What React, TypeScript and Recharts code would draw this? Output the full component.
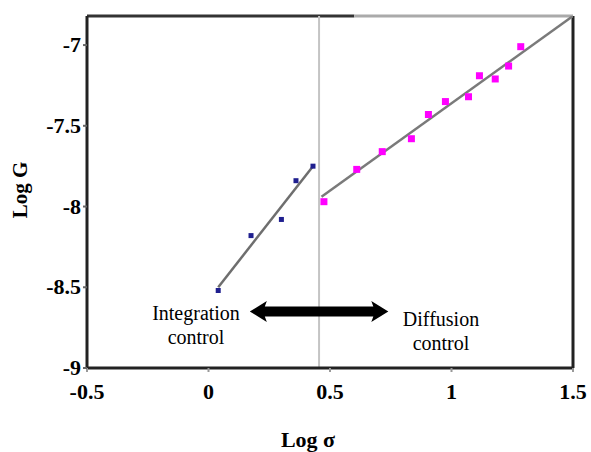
import React from "react";
import {
	ComposedChart, Scatter, XAxis, YAxis, ReferenceLine,
} from "recharts";

// log sigma / log G readings
const integrationX = [0.04, 0.175, 0.3, 0.36, 0.43];
const integrationY = [-8.52, -8.18, -8.08, -7.84, -7.75];
const diffusionX = [0.475, 0.61, 0.715, 0.835, 0.905, 0.975, 1.07, 1.115, 1.18, 1.235, 1.285];
const diffusionY = [-7.97, -7.77, -7.66, -7.58, -7.43, -7.35, -7.32, -7.19, -7.21, -7.13, -7.01];

// fitted lines (end points)
const integrationFitX = [0.04, 0.43];
const integrationFitY = [-8.5, -7.75];
const diffusionFitX = [0.465, 1.5];
const diffusionFitY = [-7.94, -6.82];

const xTicks = [-0.5, 0, 0.5, 1, 1.5];
const yTicks = [-9, -8.5, -8, -7.5, -7];
const transitionX = 0.455;
const arrowFrom = 0.17;
const arrowTo = 0.74;
const arrowY = -8.65;

const zip = (xs: number[], ys: number[]) => xs.map((x, i) => ({ x, y: ys[i] }));

const font = "Liberation Serif, serif";

const Square = (size: number, fill: string) => (props: any) => {
	const { cx, cy } = props;
	if (cx == null || cy == null) return null;
	return <rect x={cx - size / 2} y={cy - size / 2} width={size} height={size} fill={fill} />;
};

const Arrow = (props: any) => {
	const { x1, y1, x2 } = props;
	if (x1 == null) return null;
	const h = 17, hw = 10.5, sw = 5;
	const y = y1;
	const pts = [
		[x1, y], [x1 + h, y - hw], [x1 + h - 2, y - sw], [x2 - h + 2, y - sw], [x2 - h, y - hw],
		[x2, y], [x2 - h, y + hw], [x2 - h + 2, y + sw], [x1 + h - 2, y + sw], [x1 + h, y + hw],
	].map((p) => p.join(",")).join(" ");
	return <polygon points={pts} fill="#000" />;
};

const renderXTick = (props: any) => {
	const { x, y, payload } = props;
	return (
		<text x={x} y={y + 23} textAnchor="middle" style={{ fontFamily: font, fontWeight: 700, fontSize: 22, fill: "#000" }}>
			{String(payload.value)}
		</text>
	);
};

const renderYTick = (props: any) => {
	const { x, y, payload } = props;
	return (
		<text x={x} y={y + 7} textAnchor="end" style={{ fontFamily: font, fontWeight: 700, fontSize: 22, fill: "#000" }}>
			{String(payload.value)}
		</text>
	);
};

export default function App() {
	return (
		<div style={{ position: "absolute", left: 0, top: 0 }}>
			<ComposedChart width={591} height={452} margin={{ top: 16, right: 18, bottom: 54, left: 27 }}>
				<XAxis
					type="number" dataKey="x" domain={[-0.5, 1.5]} ticks={xTicks}
					allowDataOverflow axisLine={{ stroke: "#222", strokeWidth: 3 }}
					tickLine={{ stroke: "#999", strokeWidth: 2 }} tickSize={4} tickMargin={4}
					tick={renderXTick}
				/>
				<YAxis
					type="number" dataKey="y" domain={[-9, -6.82]} ticks={yTicks}
					allowDataOverflow width={60} axisLine={{ stroke: "#222", strokeWidth: 3 }}
					tickLine={{ stroke: "#666", strokeWidth: 2 }} tickSize={4} tickMargin={2}
					tick={renderYTick}
				/>

				<ReferenceLine segment={[{ x: -0.5, y: -6.82 }, { x: 0.6, y: -6.82 }]} stroke="#333" strokeWidth={3} ifOverflow="visible" />
				<ReferenceLine segment={[{ x: 0.6, y: -6.82 }, { x: 1.5, y: -6.82 }]} stroke="#aaa" strokeWidth={3} ifOverflow="visible" />
				<ReferenceLine x={1.5} stroke="#222" strokeWidth={3} ifOverflow="visible" />
				<ReferenceLine x={transitionX} stroke="#c4c4c4" strokeWidth={2} />

				<ReferenceLine segment={[{ x: arrowFrom, y: arrowY }, { x: arrowTo, y: arrowY }]} shape={Arrow} />

				<Scatter data={zip(integrationFitX, integrationFitY)} line={{ stroke: "#6e6e6e", strokeWidth: 2.5 }}
					shape={() => null} isAnimationActive={false} />
				<Scatter data={zip(diffusionFitX, diffusionFitY)} line={{ stroke: "#7a7a7a", strokeWidth: 2.5 }}
					shape={() => null} isAnimationActive={false} />
				<Scatter data={zip(integrationX, integrationY)} shape={Square(5, "#1f1f8f")} isAnimationActive={false} />
				<Scatter data={zip(diffusionX, diffusionY)} shape={Square(7, "#ff00ff")} isAnimationActive={false} />

				<text x={196} y={320} textAnchor="middle" fontFamily={font} fontSize={20}>Integration</text>
				<text x={196} y={344} textAnchor="middle" fontFamily={font} fontSize={20}>control</text>
				<text x={441} y={326} textAnchor="middle" fontFamily={font} fontSize={20}>Diffusion</text>
				<text x={441} y={350} textAnchor="middle" fontFamily={font} fontSize={20}>control</text>
				<text x={308} y={447} textAnchor="middle" fontFamily={font} fontSize={22} fontWeight="bold">Log σ</text>
				<text x={27} y={190} transform="rotate(-90 27 190)" textAnchor="middle" fontFamily={font} fontSize={21} fontWeight="bold">Log G</text>
			</ComposedChart>
		</div>
	);
}
